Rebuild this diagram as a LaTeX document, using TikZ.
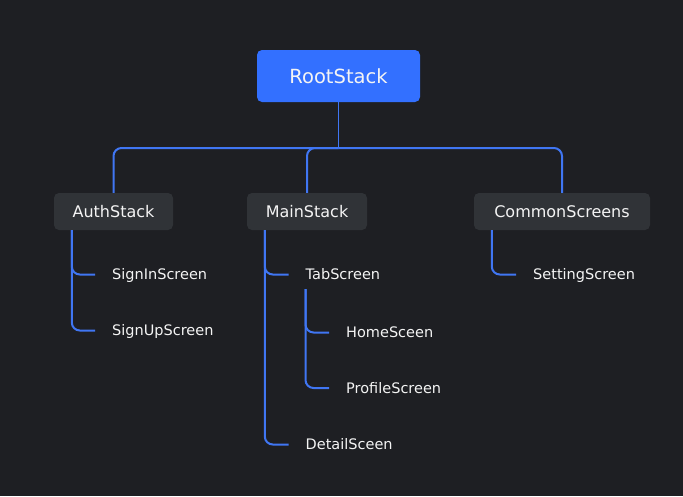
\documentclass[tikz,border=0pt]{standalone}
\usepackage{fontspec}
\setmainfont{DejaVu Sans}
\definecolor{bg}{RGB}{30,31,35}
\definecolor{rootblue}{RGB}{51,112,255}
\definecolor{boxgray}{RGB}{48,51,55}
\definecolor{linkblue}{RGB}{64,118,243}
\definecolor{txt}{RGB}{244,244,244}
\begin{document}
\begin{tikzpicture}[x=1pt,y=-1pt,
  rootbox/.style={fill=rootblue, rounded corners=5pt, minimum width=163pt, minimum height=52pt, inner sep=0pt,
    text=txt, font=\fontsize{19.5}{22}\selectfont},
  stackbox/.style={fill=boxgray, rounded corners=5pt, minimum height=37pt, inner sep=0pt,
    text=txt, font=\fontsize{16}{19}\selectfont},
  leaf/.style={anchor=west, inner sep=0pt, text height=10.6pt, text depth=0pt,
    text=txt, font=\fontsize{14.5}{17}\selectfont},
  link/.style={draw=linkblue, line width=2pt, rounded corners=8pt},
]
\fill[bg] (0,0) rectangle (683,496);
\useasboundingbox (0,0) rectangle (683,496);

% main nodes
\node[rootbox] (root) at (338.5,76) {RootStack};
\node[stackbox, minimum width=119pt] (auth) at (113.5,211.5) {AuthStack};
\node[stackbox, minimum width=120pt] (main) at (307,211.5) {MainStack};
\node[stackbox, minimum width=176pt] (common) at (562,211.5) {CommonScreens};

% leaves
\node[leaf] (signin) at (112,274.5) {SignInScreen};
\node[leaf] (signup) at (112,330.5) {SignUpScreen};
\node[leaf] (tab) at (305.5,274.5) {TabScreen};
\node[leaf] (home) at (346,332.5) {HomeSceen};
\node[leaf] (profile) at (346,388) {ProfileScreen};
\node[leaf] (detail) at (305.5,444.5) {DetailSceen};
\node[leaf] (setting) at (533,274.5) {SettingScreen};

% top bus
\coordinate (bus) at (338.5,148);
\draw[link, line width=1.6pt] (root.south) -- (bus);
\draw[link] (bus) -| (auth.north);
\draw[link] (bus) -| (main.north);
\draw[link] (bus) -| (common.north);

% branch origins
\coordinate (a0) at ([xshift=18pt]auth.south west);
\coordinate (m0) at ([xshift=18pt]main.south west);
\coordinate (c0) at ([xshift=18pt]common.south west);
\coordinate (t0) at ([yshift=-9pt]tab.south west);

\draw[link] (a0) |- ([xshift=-17pt]signin.west);
\draw[link] (a0) |- ([xshift=-17pt]signup.west);
\draw[link] (m0) |- ([xshift=-17pt]tab.west);
\draw[link] (m0) |- ([xshift=-17pt]detail.west);
\draw[link] (t0) |- ([xshift=-17pt]home.west);
\draw[link] (t0) |- ([xshift=-17pt]profile.west);
\draw[link] (c0) |- ([xshift=-17pt]setting.west);
\end{tikzpicture}
\end{document}
